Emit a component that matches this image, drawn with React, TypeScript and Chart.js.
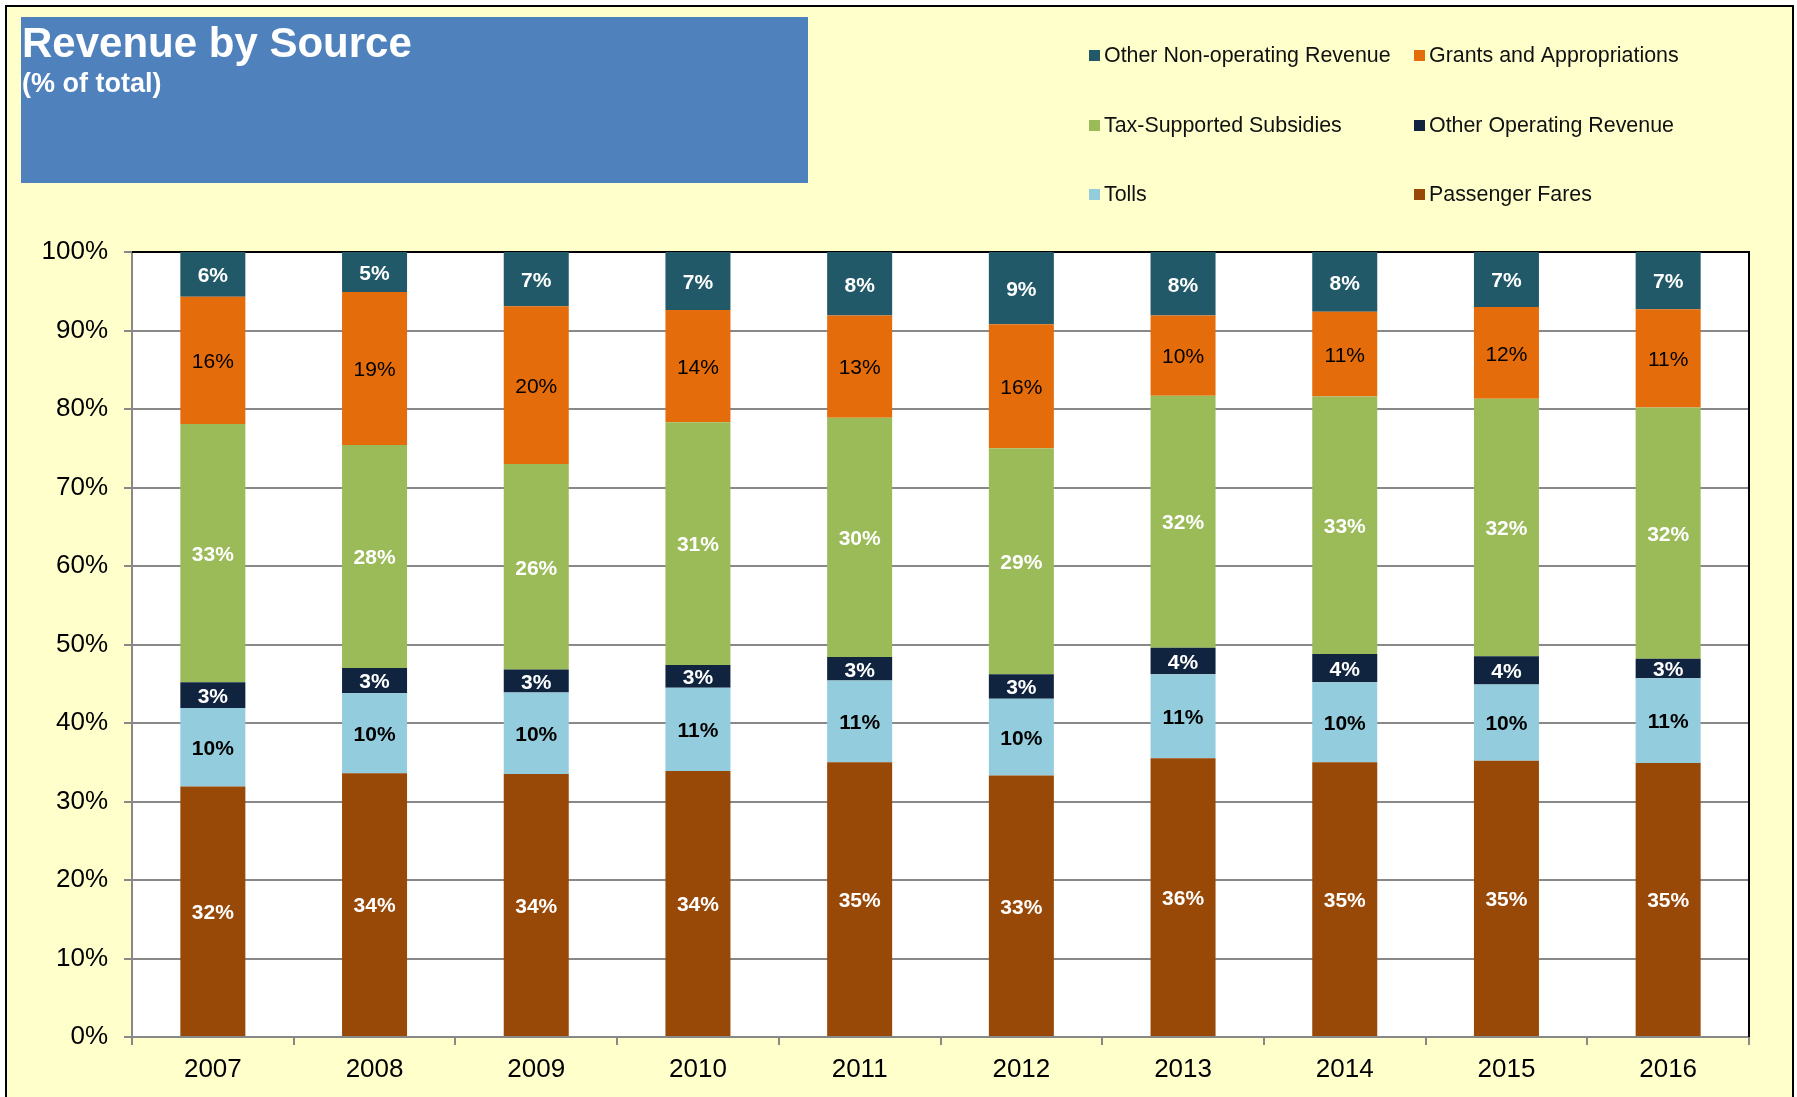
import React, { useEffect, useRef } from "react";
import { Chart, registerables } from "chart.js";

Chart.register(...registerables);

const years = ["2007", "2008", "2009", "2010", "2011", "2012", "2013", "2014", "2015", "2016"];

// Segment heights (% of total)
const passengerFares = [31.9, 33.6, 33.5, 33.9, 35.0, 33.3, 35.5, 35.0, 35.2, 34.9];
const tolls = [10.0, 10.2, 10.4, 10.6, 10.4, 9.8, 10.7, 10.2, 9.7, 10.8];
const otherOperating = [3.3, 3.2, 2.9, 2.9, 3.0, 3.1, 3.4, 3.6, 3.6, 2.5];
const taxSubsidies = [32.9, 28.4, 26.2, 30.9, 30.5, 28.8, 32.1, 32.8, 32.8, 32.0];
const grants = [16.2, 19.5, 20.1, 14.3, 13.0, 15.8, 10.2, 10.8, 11.7, 12.5];
const otherNonOperating = [5.7, 5.1, 6.9, 7.4, 8.1, 9.2, 8.1, 7.6, 7.0, 7.3];

// Data label texts as printed on the chart
const passengerFaresLabels = [32, 34, 34, 34, 35, 33, 36, 35, 35, 35];
const tollsLabels = [10, 10, 10, 11, 11, 10, 11, 10, 10, 11];
const otherOperatingLabels = [3, 3, 3, 3, 3, 3, 4, 4, 4, 3];
const taxSubsidiesLabels = [33, 28, 26, 31, 30, 29, 32, 33, 32, 32];
const grantsLabels = [16, 19, 20, 14, 13, 16, 10, 11, 12, 11];
const otherNonOperatingLabels = [6, 5, 7, 7, 8, 9, 8, 8, 7, 7];

const yTicks = [0, 10, 20, 30, 40, 50, 60, 70, 80, 90, 100];

const titleText = "Revenue by Source";
const subtitleText = "(% of total)";

const FONT = "'Liberation Sans', Arial, Helvetica, sans-serif";

type SeriesDef = {
  label: string;
  data: number[];
  texts: number[];
  color: string;
  textColor: string;
  bold: boolean;
};

const series: SeriesDef[] = [
  { label: "Passenger Fares", data: passengerFares, texts: passengerFaresLabels, color: "#984807", textColor: "#FFFFFF", bold: true },
  { label: "Tolls", data: tolls, texts: tollsLabels, color: "#93CDDD", textColor: "#000000", bold: true },
  { label: "Other Operating Revenue", data: otherOperating, texts: otherOperatingLabels, color: "#10243F", textColor: "#FFFFFF", bold: true },
  { label: "Tax-Supported Subsidies", data: taxSubsidies, texts: taxSubsidiesLabels, color: "#9BBB59", textColor: "#FFFFFF", bold: true },
  { label: "Grants and Appropriations", data: grants, texts: grantsLabels, color: "#E46C0A", textColor: "#000000", bold: false },
  { label: "Other Non-operating Revenue", data: otherNonOperating, texts: otherNonOperatingLabels, color: "#215968", textColor: "#FFFFFF", bold: true },
];

const backgroundPlugin = {
  id: "bgFrame",
  beforeDraw(chart: any) {
    const { ctx, width, height, chartArea } = chart;
    ctx.save();
    ctx.fillStyle = "#FFFFFF";
    ctx.fillRect(0, 0, width, height);
    ctx.fillStyle = "#FFFFCC";
    ctx.fillRect(6, 6, width - 10, height + 20);
    ctx.strokeStyle = "#000000";
    ctx.lineWidth = 2;
    ctx.strokeRect(6, 6, width - 10, height + 20);

    // title box
    ctx.fillStyle = "#4F81BD";
    ctx.fillRect(21, 17, 787, 166);
    ctx.fillStyle = "#FFFFFF";
    ctx.textAlign = "left";
    ctx.textBaseline = "alphabetic";
    ctx.font = `bold 42px ${FONT}`;
    ctx.fillText(titleText, 22, 57);
    ctx.font = `bold 27px ${FONT}`;
    ctx.fillText(subtitleText, 22, 92);

    // plot area
    ctx.fillStyle = "#FFFFFF";
    ctx.fillRect(chartArea.left, chartArea.top, chartArea.right - chartArea.left, chartArea.bottom - chartArea.top);

    // legend (reverse stacking order, two columns)
    const rev = [...chart.data.datasets].reverse();
    const colX = [1089, 1414];
    const rowY = [55, 125, 194];
    ctx.font = `21.4px ${FONT}`;
    ctx.textBaseline = "middle";
    rev.forEach((ds: any, k: number) => {
      const x = colX[k % 2];
      const y = rowY[Math.floor(k / 2)];
      ctx.fillStyle = ds.backgroundColor;
      ctx.fillRect(x, y - 5, 11, 11);
      ctx.fillStyle = "#111111";
      ctx.fillText(ds.label, x + 15, y + 1);
    });
    ctx.restore();
  },
  beforeDatasetsDraw(chart: any) {
    const { ctx, chartArea } = chart;
    ctx.save();
    ctx.strokeStyle = "#000000";
    ctx.lineWidth = 2;
    ctx.beginPath();
    ctx.moveTo(chartArea.left, chartArea.top);
    ctx.lineTo(chartArea.right, chartArea.top);
    ctx.lineTo(chartArea.right, chartArea.bottom);
    ctx.stroke();
    ctx.restore();
  },
};

const dataLabelPlugin = {
  id: "segLabels",
  afterDatasetsDraw(chart: any) {
    const { ctx } = chart;
    ctx.save();
    ctx.textAlign = "center";
    ctx.textBaseline = "middle";
    chart.data.datasets.forEach((ds: any, di: number) => {
      const def = series[di];
      const meta = chart.getDatasetMeta(di);
      meta.data.forEach((el: any, i: number) => {
        const y = (el.y + el.base) / 2;
        ctx.font = `${def.bold ? "bold " : ""}21px ${FONT}`;
        ctx.fillStyle = def.textColor;
        ctx.fillText(`${def.texts[i]}%`, el.x, y + 2);
      });
    });
    ctx.restore();
  },
};

export default function App() {
  const canvasRef = useRef<HTMLCanvasElement | null>(null);

  useEffect(() => {
    const canvas = canvasRef.current;
    if (!canvas) return;
    const chart = new Chart(canvas, {
      type: "bar",
      data: {
        labels: years,
        datasets: series.map((s) => ({
          label: s.label,
          data: s.data,
          backgroundColor: s.color,
          borderWidth: 0,
          barPercentage: 0.402,
          categoryPercentage: 1,
        })),
      },
      options: {
        responsive: false,
        devicePixelRatio: 1,
        animation: false,
        layout: { padding: { left: 8, top: 252, right: 48, bottom: 0 } },
        plugins: {
          legend: { display: false },
          tooltip: { enabled: false },
          title: { display: false },
        },
        scales: {
          x: {
            stacked: true,
            grid: {
              display: true,
              drawOnChartArea: false,
              drawTicks: true,
              tickLength: 8,
              color: "#888888",
              lineWidth: 2,
              offset: true,
            },
            border: { display: true, color: "#888888", width: 2 },
            ticks: {
              color: "#000000",
              font: { family: FONT, size: 26 },
              padding: 9,
              maxRotation: 0,
            },
            afterFit: (s: any) => {
              s.height = 60;
            },
          },
          y: {
            stacked: true,
            min: 0,
            max: 100,
            afterBuildTicks: (s: any) => {
              s.ticks = yTicks.map((v) => ({ value: v }));
            },
            grid: {
              color: "#888888",
              lineWidth: 2,
              tickLength: 8,
              drawTicks: true,
            },
            border: { display: true, color: "#888888", width: 2 },
            ticks: {
              color: "#000000",
              font: { family: FONT, size: 26 },
              padding: 16,
              callback: (v: any) => `${v}%`,
            },
            afterFit: (s: any) => {
              s.width = 124;
            },
          },
        },
      },
      plugins: [backgroundPlugin, dataLabelPlugin],
    });
    return () => chart.destroy();
  }, []);

  return (
    <div style={{ position: "absolute", left: 0, top: 0, width: 1797, height: 1097, overflow: "hidden" }}>
      <canvas ref={canvasRef} width={1797} height={1097} style={{ display: "block", width: 1797, height: 1097 }} />
    </div>
  );
}
